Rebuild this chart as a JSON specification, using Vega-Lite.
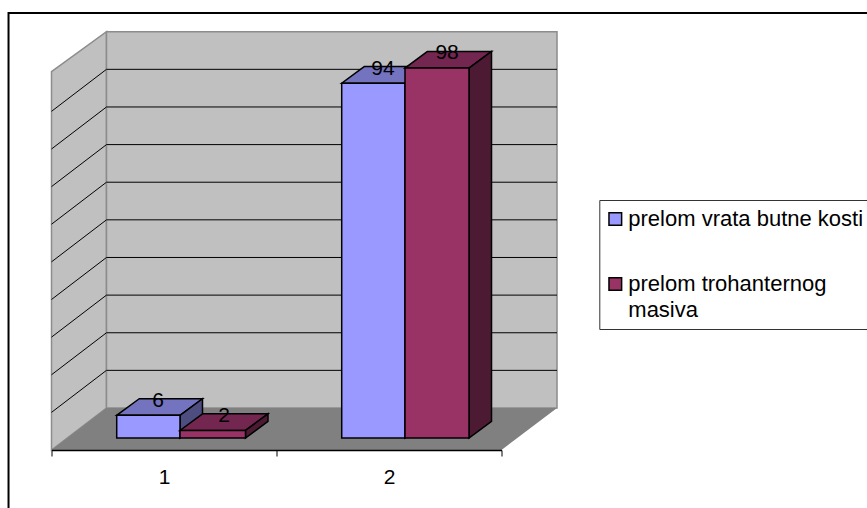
{
"$schema":"https://vega.github.io/schema/vega-lite/v6.json",
"width":450,"height":377.5,
"autosize":{"type":"none"},
"padding":{"left":51.5,"top":60.5,"right":365.5,"bottom":70},
"background":"white",
"view":{"stroke":null},
"config":{"style":{"guide-label":{"lineHeight":26}}},
"datasets":{
"wallSide":[{"x":0.5,"y":97.03,"y2":-3.18},{"x":0.7444,"y":107.63,"y2":7.95}],
"wallBack":[{"x":0.7444,"y":107.63,"y2":7.95},{"x":2.7467,"y":107.63,"y2":7.95}],
"floor":[{"y":-3.18,"x":0.5,"x2":2.5},{"y":7.95,"x":0.7444,"x2":2.7467}],
"grid":[
{"g":1,"x":0.5,"y":86.53},{"g":1,"x":0.7444,"y":97.66},{"g":1,"x":2.7467,"y":97.66},
{"g":2,"x":0.5,"y":76.56},{"g":2,"x":0.7444,"y":87.69},{"g":2,"x":2.7467,"y":87.69},
{"g":3,"x":0.5,"y":66.59},{"g":3,"x":0.7444,"y":77.72},{"g":3,"x":2.7467,"y":77.72},
{"g":4,"x":0.5,"y":56.63},{"g":4,"x":0.7444,"y":67.76},{"g":4,"x":2.7467,"y":67.76},
{"g":5,"x":0.5,"y":46.66},{"g":5,"x":0.7444,"y":57.79},{"g":5,"x":2.7467,"y":57.79},
{"g":6,"x":0.5,"y":36.69},{"g":6,"x":0.7444,"y":47.82},{"g":6,"x":2.7467,"y":47.82},
{"g":7,"x":0.5,"y":26.72},{"g":7,"x":0.7444,"y":37.85},{"g":7,"x":2.7467,"y":37.85},
{"g":8,"x":0.5,"y":16.75},{"g":8,"x":0.7444,"y":27.88},{"g":8,"x":2.7467,"y":27.88},
{"g":9,"x":0.5,"y":6.79},{"g":9,"x":0.7444,"y":17.92},{"g":9,"x":2.7467,"y":17.92}
],
"tops":[
{"serija":"A","k":1,"y":6,"x":0.7898,"x2":1.0711},{"serija":"A","k":1,"y":10.4,"x":0.8898,"x2":1.1711},
{"serija":"A","k":2,"y":94,"x":1.7898,"x2":2.0711},{"serija":"A","k":2,"y":98.4,"x":1.8898,"x2":2.1711},
{"serija":"B","k":1,"y":2,"x":1.0711,"x2":1.3622},{"serija":"B","k":1,"y":6.4,"x":1.1711,"x2":1.4622},
{"serija":"B","k":2,"y":98,"x":2.0711,"x2":2.3556},{"serija":"B","k":2,"y":102.4,"x":2.1711,"x2":2.4556}
],
"sides":[
{"serija":"A","k":1,"x":1.0711,"y":6,"y2":0},{"serija":"A","k":1,"x":1.1711,"y":10.4,"y2":4.4},
{"serija":"A","k":2,"x":2.0711,"y":94,"y2":0},{"serija":"A","k":2,"x":2.1711,"y":98.4,"y2":4.4},
{"serija":"B","k":1,"x":1.3622,"y":2,"y2":0},{"serija":"B","k":1,"x":1.4622,"y":6.4,"y2":4.4},
{"serija":"B","k":2,"x":2.3556,"y":98,"y2":0},{"serija":"B","k":2,"x":2.4556,"y":102.4,"y2":4.4}
],
"bars":[
{"serija":"prelom vrata butne kosti","k":1,"x":0.7898,"x2":1.0711,"y":6,"y2":0},
{"serija":"prelom vrata butne kosti","k":2,"x":1.7898,"x2":2.0711,"y":94,"y2":0},
{"serija":"prelom trohanternog masiva","k":1,"x":1.0711,"x2":1.3622,"y":2,"y2":0},
{"serija":"prelom trohanternog masiva","k":2,"x":2.0711,"x2":2.3556,"y":98,"y2":0}
],
"labels":[
{"x":0.9733,"y":10.4,"value":6},{"x":1.2667,"y":6.4,"value":2},
{"x":1.9733,"y":98.4,"value":94},{"x":2.258,"y":102.4,"value":98}
]
},
"encoding":{
"x":{"field":"x","type":"quantitative","scale":{"domain":[0.5,2.5],"nice":false,"zero":false},
"axis":{"title":null,"grid":false,"offset":12,"values":[0.5,1,1.5,2,2.5],"domainColor":"black","domainWidth":1.5,
"tickColor":"black","tickSize":6,"tickOpacity":{"condition":{"test":"datum.value%1==0","value":0},"value":1},
"labelExpr":"datum.value%1==0?''+datum.value:''","labelFont":"Liberation Sans","labelFontSize":21,"labelColor":"black","labelPadding":10,"labelFlush":false,"labelOverlap":false,"labelBound":false,"zindex":1}},
"y":{"field":"y","type":"quantitative","scale":{"domain":[0,100],"nice":false,"zero":false},"axis":null}
},
"layer":[
{"data":{"values":[{"x":0.309,"x2":4.5,"y":112.6,"y2":-30}]},"mark":{"type":"rect","fill":"white","stroke":"black","strokeWidth":2},"encoding":{"x2":{"field":"x2"},"y2":{"field":"y2"}}},
{"data":{"name":"wallSide"},"mark":{"type":"area","fill":"#c0c0c0","stroke":"#8c8c8c","strokeWidth":1.5},"encoding":{"y2":{"field":"y2"}}},
{"data":{"name":"wallBack"},"mark":{"type":"area","fill":"#c0c0c0","stroke":"#8c8c8c","strokeWidth":1.5},"encoding":{"y2":{"field":"y2"}}},
{"data":{"name":"floor"},"mark":{"type":"area","orient":"horizontal","fill":"#808080"},"encoding":{"x2":{"field":"x2"}}},
{"data":{"name":"grid"},"mark":{"type":"line","stroke":"black","strokeWidth":1,"interpolate":"linear"},"encoding":{"detail":{"field":"g"}}},
{"data":{"name":"tops"},"transform":[{"filter":"datum.serija=='A'"}],"mark":{"type":"area","orient":"horizontal","fill":"#7373bf","stroke":"black","strokeWidth":1.5},"encoding":{"x2":{"field":"x2"},"detail":{"field":"k"}}},
{"data":{"name":"sides"},"transform":[{"filter":"datum.serija=='A'"}],"mark":{"type":"area","fill":"#4d4d80","stroke":"black","strokeWidth":1.5},"encoding":{"y2":{"field":"y2"},"detail":{"field":"k"}}},
{"data":{"name":"bars"},"transform":[{"filter":"datum.serija=='prelom vrata butne kosti'"}],"mark":{"type":"rect","stroke":"black","strokeWidth":1.5},
"encoding":{"x2":{"field":"x2"},"y2":{"field":"y2"},
"fill":{"field":"serija","type":"nominal","scale":{"domain":["prelom vrata butne kosti","prelom trohanternog masiva"],"range":["#9999ff","#993366"]},
"legend":{"title":null,"orient":"none","legendX":547.8,"legendY":139.5,"symbolType":"square","symbolSize":160,"symbolStrokeColor":"black","symbolStrokeWidth":1.5,"symbolOpacity":1,"symbolOffset":-3,
"labelFont":"Liberation Sans","labelFontSize":22,"labelColor":"black","labelLimit":400,"labelOffset":2,"strokeColor":"#333333","padding":8,"rowPadding":43,"fillColor":"white",
"labelExpr":"datum.label=='prelom trohanternog masiva'?['prelom trohanternog','masiva']:datum.label"}}}},
{"data":{"name":"tops"},"transform":[{"filter":"datum.serija=='B'"}],"mark":{"type":"area","orient":"horizontal","fill":"#732650","stroke":"black","strokeWidth":1.5},"encoding":{"x2":{"field":"x2"},"detail":{"field":"k"}}},
{"data":{"name":"sides"},"transform":[{"filter":"datum.serija=='B'"}],"mark":{"type":"area","fill":"#4d1a33","stroke":"black","strokeWidth":1.5},"encoding":{"y2":{"field":"y2"},"detail":{"field":"k"}}},
{"data":{"name":"bars"},"transform":[{"filter":"datum.serija=='prelom trohanternog masiva'"}],"mark":{"type":"rect","stroke":"black","strokeWidth":1.5},
"encoding":{"x2":{"field":"x2"},"y2":{"field":"y2"},"fill":{"field":"serija","type":"nominal"}}},
{"data":{"name":"labels"},"mark":{"type":"text","font":"Liberation Sans","fontSize":21,"color":"black","baseline":"middle","align":"center","dy":2},"encoding":{"text":{"field":"value","type":"quantitative"}}}
]
}
